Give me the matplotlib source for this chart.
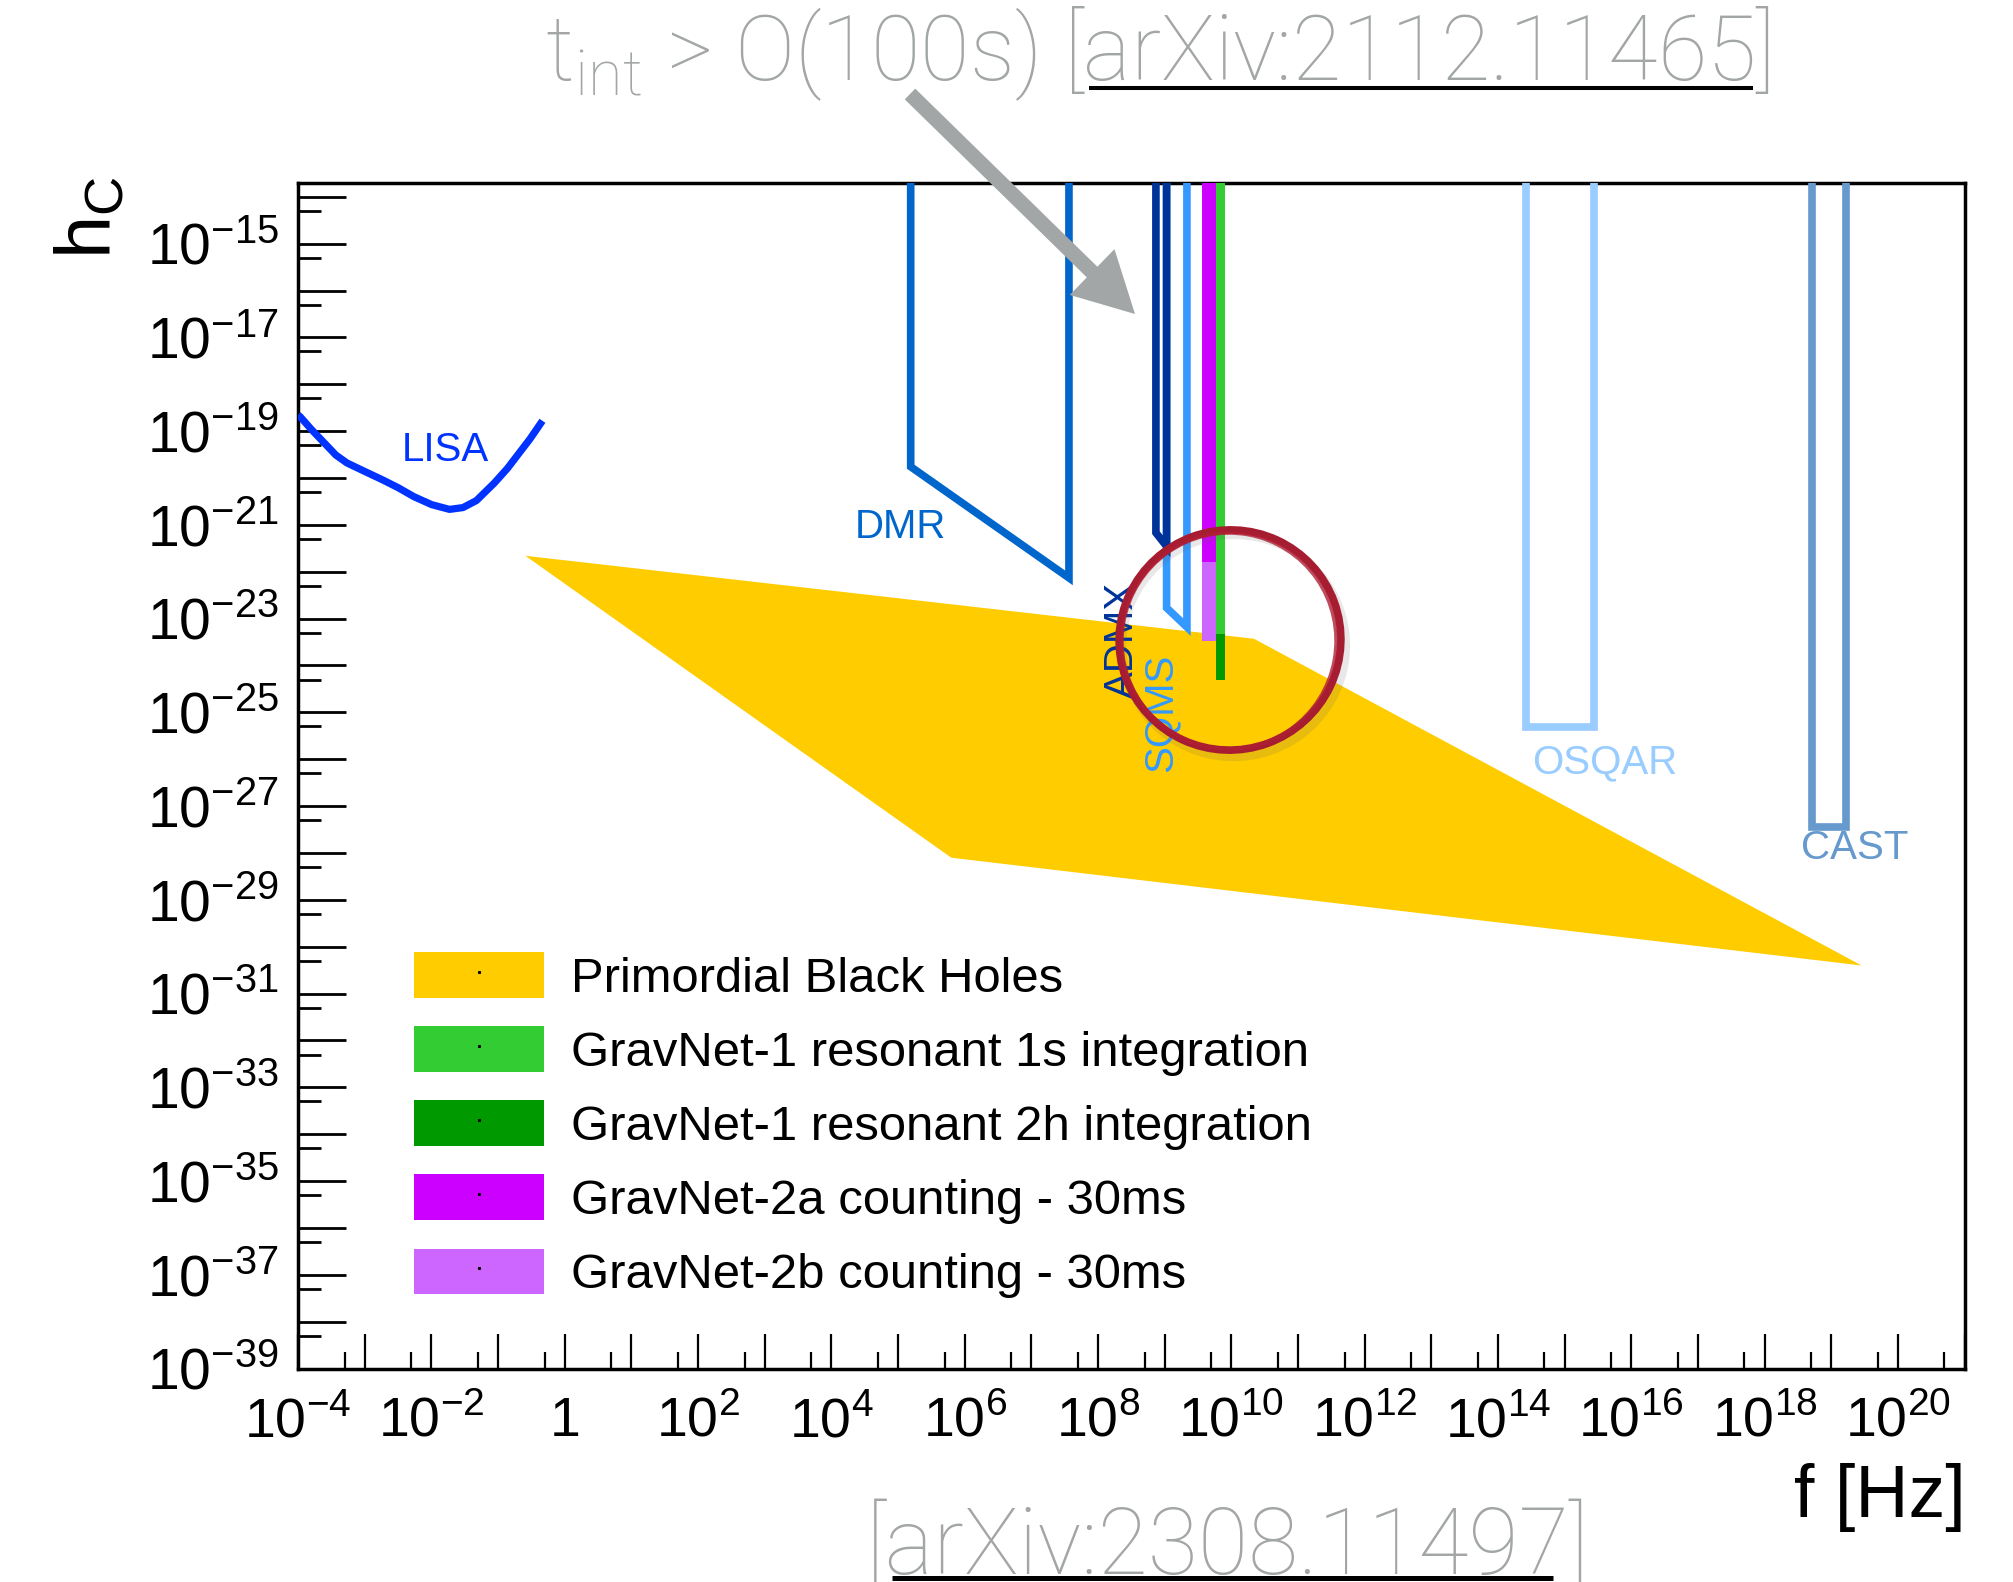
import numpy as np
import matplotlib
matplotlib.use("Agg")
import matplotlib.pyplot as plt
from matplotlib.patches import Patch, Ellipse, FancyArrow
from matplotlib.lines import Line2D
from matplotlib.legend_handler import HandlerTuple
from matplotlib.ticker import FixedLocator, FuncFormatter, NullFormatter

plt.rcParams['font.family'] = ['Liberation Sans', 'DejaVu Sans']
plt.rcParams['mathtext.fontset'] = 'custom'
plt.rcParams['mathtext.rm'] = 'Liberation Sans'
plt.rcParams['mathtext.tt'] = 'Roboto:light'

# ===== data =====
YTOP = 1e-12   # open boxes / bars run off the top of the frame

lisa_f = [1.0e-4, 1.07e-4, 1.57e-4, 2.5e-4, 3.68e-4, 5.42e-4, 1.0e-3, 1.86e-3, 3.18e-3,
          5.46e-3, 1.01e-2, 1.87e-2, 2.98e-2, 4.73e-2, 8.77e-2, 0.139, 0.19, 0.301, 0.463]
lisa_h = [2.2e-19, 2.04e-19, 1.10e-19, 5.5e-20, 3.09e-20, 2.09e-20, 1.38e-20, 9.1e-21, 6.2e-21,
          4.0e-21, 2.7e-21, 2.14e-21, 2.34e-21, 3.3e-21, 7.8e-21, 1.62e-20, 2.9e-20, 6.8e-20, 1.66e-19]

pbh_f = [0.257, 2.19e10, 2.86e19, 6.3e5]
pbh_h = [2.19e-22, 3.72e-24, 3.98e-31, 7.94e-29]

dmr_f = [1.55e5, 1.55e5, 3.67e7, 3.67e7]
dmr_h = [YTOP, 1.74e-20, 7.4e-23, YTOP]

admx_f = [7.4e8, 7.4e8, 1.07e9, 1.07e9]
admx_h = [YTOP, 6.8e-22, 3.5e-22, YTOP]

sqms_f = [1.07e9, 1.07e9, 2.16e9, 2.16e9]
sqms_h = [YTOP, 1.7e-23, 6.6e-24, YTOP]

osqar_f = [2.6e14, 2.6e14, 2.8e15, 2.8e15]
osqar_h = [YTOP, 4.8e-26, 4.8e-26, YTOP]

cast_f = [5.2e18, 5.2e18, 1.68e19, 1.68e19]
cast_h = [YTOP, 3.6e-28, 3.6e-28, YTOP]

# GravNet bars: (f_lo, f_hi, h_lo, h_hi)
gn2a = (3.67e9, 5.82e9, 1.6e-22, YTOP)
gn2b = (3.67e9, 5.82e9, 3.4e-24, 1.6e-22)
gn1_1s = (5.82e9, 8.0e9, 4.7e-24, YTOP)
gn1_2h = (5.82e9, 8.0e9, 4.9e-25, 4.7e-24)

legend_labels = ["Primordial Black Holes",
                 "GravNet-1 resonant 1s integration",
                 "GravNet-1 resonant 2h integration",
                 "GravNet-2a counting - 30ms",
                 "GravNet-2b counting - 30ms"]
legend_colors = ["#ffcc00", "#33cc33", "#009900", "#cc00ff", "#cc66ff"]

x_label_exps = list(range(-4, 21, 2))
y_label_exps = list(range(-15, -40, -2))

# ===== figure =====
W, H = 2013, 1582
fig = plt.figure(figsize=(W / 100, H / 100), dpi=100)
ax = fig.add_axes([298.1 / W, 1 - 1368.6 / H, 1666.4 / W, 1185.9 / H])
ax.set_xscale('log')
ax.set_yscale('log')
ax.set_xlim(1e-4, 1e21)
ax.set_ylim(1e-39, 10 ** -13.70)

# PBH region
ax.fill(pbh_f, pbh_h, color="#ffcc00", lw=0, zorder=1)

# LISA
ax.plot(lisa_f, lisa_h, color="#0033ff", lw=5.2, zorder=3, solid_capstyle='butt',
        solid_joinstyle='round')

# detector outlines
lkw = dict(lw=5.5, solid_joinstyle='miter', solid_capstyle='butt', zorder=3)
ax.plot(dmr_f, dmr_h, color="#0066cc", **lkw)
ax.plot(sqms_f, sqms_h, color="#3399ff", **lkw)
ax.plot(admx_f, admx_h, color="#003399", **lkw)
ax.plot(osqar_f, osqar_h, color="#99ccff", **lkw)
ax.plot(cast_f, cast_h, color="#6699cc", **lkw)

# GravNet bars
for (f0, f1, h0, h1), c in [(gn2a, "#cc00ff"), (gn2b, "#cc66ff"),
                            (gn1_2h, "#009900"), (gn1_1s, "#33cc33")]:
    ax.fill_between([f0, f1], h0, h1, color=c, lw=0, zorder=4)

# detector names
tkw = dict(fontsize=29, ha='center', va='center', zorder=5)
ax.text(1.6e-2, 4.0e-20, "LISA", color="#0033ff", **tkw)
ax.text(1.07e5, 9.1e-22, "DMR", color="#0066cc", **tkw)
ax.text(2.3e8, 3.5e-24, "ADMX", color="#003399", rotation=90, **tkw)
ax.text(8.8e8, 1.0e-25, "SQMS", color="#3399ff", rotation=90, **tkw)
ax.text(3.3e14, 8.7e-27, "OSQAR", color="#99ccff", fontsize=29, ha='left', va='center', zorder=5)
ax.text(3.5e18, 1.26e-28, "CAST", color="#6699cc", fontsize=29, ha='left', va='center', zorder=5)

# axes / ticks
for s in ax.spines.values():
    s.set_linewidth(2.5)
ax.xaxis.set_major_locator(FixedLocator([10.0 ** e for e in range(-4, 22)]))
ax.xaxis.set_minor_locator(FixedLocator([5 * 10.0 ** e for e in range(-5, 21)]))
ax.yaxis.set_major_locator(FixedLocator([10.0 ** e for e in range(-39, -13)]))
ax.yaxis.set_minor_locator(FixedLocator([5 * 10.0 ** e for e in range(-40, -14)]))


def xfmt(v, pos):
    e = int(round(np.log10(v)))
    if e not in x_label_exps:
        return ''
    if e == 0:
        return '1'
    return r'10$^{\mathrm{%d}}$' % e


def yfmt(v, pos):
    e = int(round(np.log10(v)))
    if e not in y_label_exps:
        return ''
    return r'10$^{\mathrm{%d}}$' % e


ax.xaxis.set_major_formatter(FuncFormatter(xfmt))
ax.yaxis.set_major_formatter(FuncFormatter(yfmt))
ax.xaxis.set_minor_formatter(NullFormatter())
ax.yaxis.set_minor_formatter(NullFormatter())
ax.tick_params(axis='x', which='major', direction='in', length=25, width=1.6, pad=20,
               labelsize=40, top=False)
ax.tick_params(axis='x', which='minor', direction='in', length=12, width=1.6, top=False)
ax.tick_params(axis='y', which='major', direction='in', length=34.5, width=2, pad=14,
               labelsize=41, right=False)
ax.tick_params(axis='y', which='minor', direction='in', length=16.5, width=2, right=False)

fig.text(1966 / W, 1 - 1498 / H, "f [Hz]", fontsize=53, ha='right', va='center')
fig.text(90 / W, 1 - 217 / H, r"h$_{\mathrm{C}}$", fontsize=56, rotation=90,
         ha='center', va='center')

# legend
dot = Line2D([], [], marker='s', ms=1.2, color='k', ls='none')
handles = [(Patch(facecolor=c, edgecolor='none'), dot) for c in legend_colors]
ax.legend(handles, legend_labels, handler_map={tuple: HandlerTuple(ndivide=1)},
          loc='upper left', bbox_to_anchor=(414 / W, 1 - 952 / H), bbox_transform=fig.transFigure,
          frameon=False, fontsize=35.3, borderpad=0, borderaxespad=0,
          handlelength=2.65, handleheight=1.06, handletextpad=0.55, labelspacing=0.5)

# ===== overlay annotations (pixel coordinates) =====
ov = fig.add_axes([0, 0, 1, 1], zorder=10)
ov.set_xlim(0, W)
ov.set_ylim(H, 0)
ov.axis('off')
ov.patch.set_alpha(0)

grey = "#a3a6a6"
ov.text(545, 80, r"t$_{\mathtt{int}}$ > O(100s) [arXiv:2112.11465]", color=grey,
        fontsize=65, fontfamily='Roboto', fontweight='light', ha='left', va='baseline')
ov.plot([1089, 1753], [88, 88], color='k', lw=2.9, solid_capstyle='butt')

ov.text(866, 1574, "[arXiv:2308.11497]", color=grey,
        fontsize=66, fontfamily='Roboto', fontweight='light', ha='left', va='baseline')
ov.plot([892, 1553], [1578, 1578], color='k', lw=3.6, solid_capstyle='butt')

ov.add_patch(FancyArrow(910, 94, 1135 - 910, 314 - 94, width=15, head_width=64,
                        head_length=60, length_includes_head=True, color=grey, lw=0))

# red brush circle
ov.add_patch(Ellipse((1234, 646), 224, 222, angle=-15, fill=False, ec="#666666",
                     lw=6, alpha=0.15))
ov.add_patch(Ellipse((1230, 640), 222, 220, angle=-20, fill=False, ec="#a61c30", lw=5.5))
ov.add_patch(Ellipse((1229, 641), 214, 216, angle=10, fill=False, ec="#b01f35", lw=2.5, alpha=0.8))

fig.savefig("out.png", dpi=100)
